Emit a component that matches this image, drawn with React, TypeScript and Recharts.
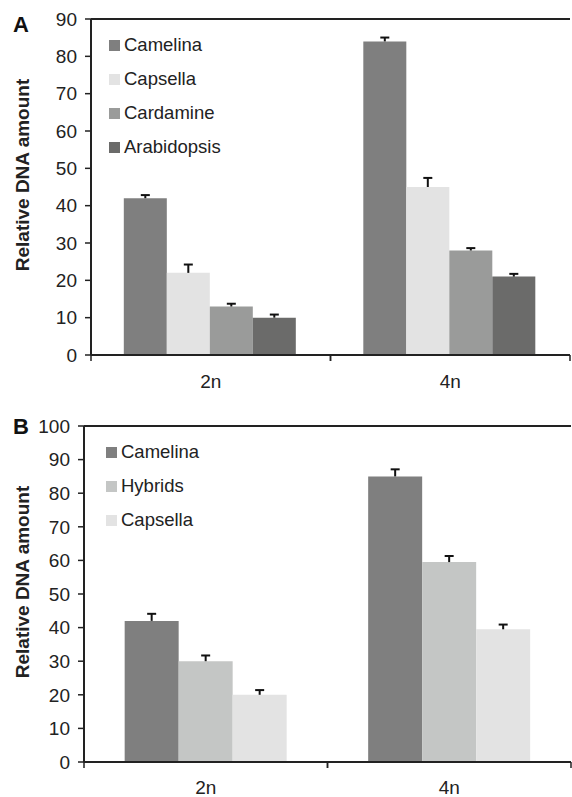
import React from 'react'
import { BarChart, Bar, XAxis, YAxis, Legend, ReferenceLine } from 'recharts'

// ---- data ----
const ploidy = ['2n', '4n']

// panel A
const camelinaA = [42, 84]
const camelinaAErr = [1.1, 1.3]
const capsellaA = [22, 45]
const capsellaAErr = [2.5, 2.7]
const cardamineA = [13, 28]
const cardamineAErr = [1, 0.9]
const arabidopsisA = [10, 21]
const arabidopsisAErr = [1.1, 1]
const ticksA = [0, 10, 20, 30, 40, 50, 60, 70, 80, 90]

// panel B
const camelinaB = [42, 85]
const camelinaBErr = [2.4, 2.4]
const hybridsB = [30, 59.5]
const hybridsBErr = [2, 2.1]
const capsellaB = [20, 39.5]
const capsellaBErr = [1.7, 1.7]
const ticksB = [0, 10, 20, 30, 40, 50, 60, 70, 80, 90, 100]

const dataA = ploidy.map((name, i) => ({
  name,
  camelina: camelinaA[i], camelinaErr: camelinaAErr[i],
  capsella: capsellaA[i], capsellaErr: capsellaAErr[i],
  cardamine: cardamineA[i], cardamineErr: cardamineAErr[i],
  arabidopsis: arabidopsisA[i], arabidopsisErr: arabidopsisAErr[i],
}))

const dataB = ploidy.map((name, i) => ({
  name,
  camelina: camelinaB[i], camelinaErr: camelinaBErr[i],
  hybrids: hybridsB[i], hybridsErr: hybridsBErr[i],
  capsella: capsellaB[i], capsellaErr: capsellaBErr[i],
}))

const seriesA = [
  { key: 'camelina', name: 'Camelina', color: '#7f7f7f' },
  { key: 'capsella', name: 'Capsella', color: '#e3e3e3' },
  { key: 'cardamine', name: 'Cardamine', color: '#9a9b9a' },
  { key: 'arabidopsis', name: 'Arabidopsis', color: '#6b6b6a' },
]

const seriesB = [
  { key: 'camelina', name: 'Camelina', color: '#7f7f7f' },
  { key: 'hybrids', name: 'Hybrids', color: '#c4c6c5' },
  { key: 'capsella', name: 'Capsella', color: '#e3e3e3' },
]

const INK = '#222'
const FONT = '"Liberation Sans", Arial, Helvetica, sans-serif'

// upward-only error bar drawn on the stacked error segment
const ErrShape = (props: any) => {
  const { x, y, width, height } = props
  if (x == null || !height) return null
  const cx = x + width / 2
  const top = y + 1
  return (
    <g>
      <line x1={cx} x2={cx} y1={y + height} y2={top} stroke="#111" strokeWidth={2} />
      <line x1={cx - 4.5} x2={cx + 4.5} y1={top} y2={top} stroke="#111" strokeWidth={2} />
    </g>
  )
}

// category label plus small ticks at the band edges
const CatTick = (props: any) => {
  const { x, y, payload, gapTop } = props
  const half = payload && payload.offset ? payload.offset : 0
  const axisY = y - gapTop
  return (
    <g>
      <line x1={x - half} x2={x - half} y1={axisY} y2={axisY + 6} stroke={INK} strokeWidth={1.5} />
      <line x1={x + half} x2={x + half} y1={axisY} y2={axisY + 6} stroke={INK} strokeWidth={1.5} />
      <text x={x} y={y} dy="0.71em" textAnchor="middle" fontSize={19} fill={INK}>
        {payload.value}
      </text>
    </g>
  )
}

const YLabel = (props: any) => {
  const vb = props.viewBox || {}
  const cx = 22
  const cy = vb.y + vb.height / 2 - 12
  return (
    <text
      x={cx}
      y={cy}
      transform={`rotate(-90 ${cx} ${cy})`}
      textAnchor="middle"
      dominantBaseline="central"
      fontWeight="bold"
      fontSize={19}
      fill={INK}
    >
      Relative DNA amount
    </text>
  )
}

const LegendBox = ({ items }: any) => (
  <div>
    {items.map((p: any) => (
      <div key={p.key} style={{ display: 'flex', alignItems: 'center', height: 34 }}>
        <span style={{ width: 11, height: 11, background: p.color, marginRight: 4, display: 'inline-block' }} />
        <span style={{ fontSize: 18.5, color: INK, lineHeight: '20px' }}>{p.name}</span>
      </div>
    ))}
  </div>
)

function Panel({ data, series, ticks, max, top, marginTop, marginRight, yWidth, xHeight, tickGap, gap, legendPos }: any) {
  return (
    <div style={{ position: 'absolute', left: 0, top }}>
      <BarChart
        width={572}
        height={marginTop + 336 + xHeight + 3}
        data={data}
        margin={{ top: marginTop, right: marginRight, bottom: 3, left: 0 }}
        barCategoryGap={gap}
        barGap={0}
      >
        <XAxis
          dataKey="name"
          axisLine={{ stroke: INK, strokeWidth: 2 }}
          tickLine={false}
          tickSize={6}
          tickMargin={tickGap - 6}
          tick={<CatTick gapTop={tickGap} />}
          height={xHeight}
        />
        <YAxis
          domain={[0, max]}
          ticks={ticks}
          width={yWidth}
          axisLine={{ stroke: INK, strokeWidth: 2 }}
          tickLine={{ stroke: INK, strokeWidth: 1.5 }}
          tickSize={6}
          tickMargin={8}
          tick={{ fontSize: 19, fill: INK }}
          label={<YLabel />}
          interval={0}
        />
        <YAxis
          yAxisId="right"
          orientation="right"
          type="number"
          domain={[0, 1]}
          width={0}
          tick={false}
          tickLine={false}
          axisLine={{ stroke: INK, strokeWidth: 2 }}
        />
        <ReferenceLine y={max} stroke={INK} strokeWidth={2} />
        <Legend
          layout="vertical"
          align="center"
          verticalAlign="middle"
          content={<LegendBox items={series} />}
          wrapperStyle={{ left: legendPos[0], top: legendPos[1], width: 'auto' }}
        />
        {series.map((s: any) => [
          <Bar
            key={s.key}
            dataKey={s.key}
            name={s.name}
            stackId={s.key}
            fill={s.color}
            isAnimationActive={false}
          />,
          <Bar
            key={s.key + 'Err'}
            dataKey={s.key + 'Err'}
            stackId={s.key}
            fill="none"
            legendType="none"
            shape={<ErrShape />}
            isAnimationActive={false}
          />,
        ])}
      </BarChart>
    </div>
  )
}

export default function App() {
  return (
    <div style={{ position: 'absolute', left: 0, top: 0, width: 572, height: 797, background: '#fff', fontFamily: FONT }}>
      <Panel
        data={dataA}
        series={seriesA}
        ticks={ticksA}
        max={90}
        top={0}
        marginTop={19}
        marginRight={2}
        yWidth={91}
        xHeight={42}
        tickGap={20}
        gap="13.7%"
        legendPos={[109, 28]}
      />
      <Panel
        data={dataB}
        series={seriesB}
        ticks={ticksB}
        max={100}
        top={400}
        marginTop={26}
        marginRight={1}
        yWidth={84}
        xHeight={32}
        tickGap={19}
        gap="16.7%"
        legendPos={[106, 35]}
      />
      <div style={{ position: 'absolute', left: 13, top: 14, fontSize: 22, lineHeight: '22px', fontWeight: 'bold', color: '#111' }}>A</div>
      <div style={{ position: 'absolute', left: 13, top: 416, fontSize: 22, lineHeight: '22px', fontWeight: 'bold', color: '#111' }}>B</div>
    </div>
  )
}
